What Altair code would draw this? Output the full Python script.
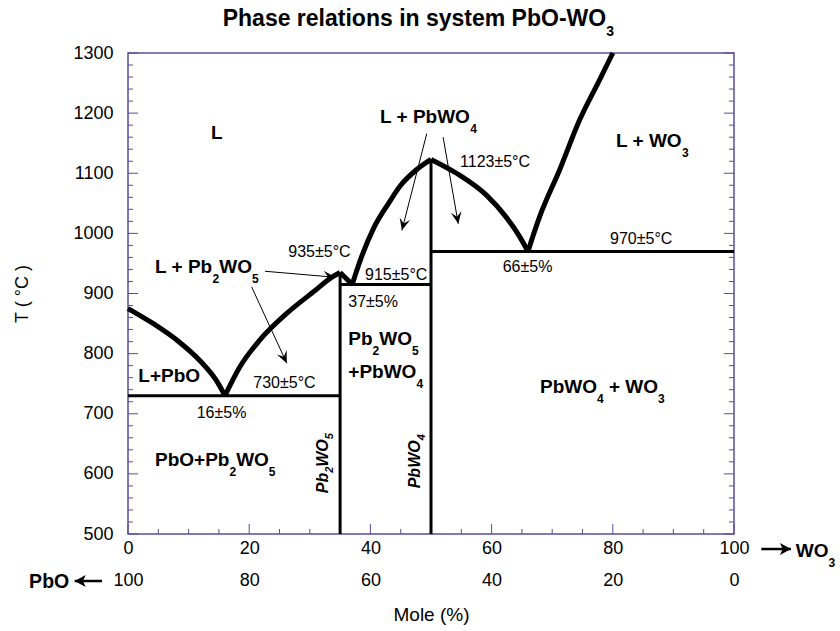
import math
import altair as alt
import pandas as pd

# ------------------------------------------------------------------ layout
W, H = 606, 481
XDOM = [0, 100]
TDOM = [500, 1300]
FONT = "Liberation Sans"
FRAME = "#5b4b9c"

# ------------------------------------------------------------------ data
# liquidus segments (x = mol % WO3, t = temperature °C)
liq_A_x = [0, 4, 8.5, 11.8, 14.6, 16]
liq_A_t = [875, 851, 819, 789, 755, 730]
liq_B_x = [16, 18.4, 21.7, 26.1, 30.5, 33.8, 35]
liq_B_t = [730, 777, 822, 866, 902, 928, 935]
liq_C_x = [35, 36, 37]
liq_C_t = [935, 925, 915]
liq_D_x = [37, 38.5, 40.5, 43, 45, 47.5, 50]
liq_D_t = [915, 960, 1008, 1050, 1080, 1105, 1123]
liq_E_x = [50, 54.2, 59.1, 62.4, 64.6, 66]
liq_E_t = [1123, 1100, 1064, 1027, 995, 970]
liq_F_x = [66, 67.9, 71.2, 74.5, 77.8, 80]
liq_F_t = [970, 1027, 1105, 1188, 1255, 1300]

# straight phase boundaries (solidus lines and compound lines)
iso_x1 = [0, 35, 35, 50, 50]
iso_x2 = [35, 35, 50, 50, 100]
iso_t1 = [730, 500, 915, 500, 970]
iso_t2 = [730, 935, 915, 1123, 970]

# annotation arrows inside the plot (from -> to)
arr_x1 = [22.6, 20.4, 49.3, 52.0]
arr_t1 = [937, 911, 1166, 1160]
arr_x2 = [34.2, 26.2, 45.2, 54.5]
arr_t2 = [927, 784, 1005, 1016]

# composition-direction arrows beside the axis labels (from -> to)
dir_x1 = [-4.3, 104.5]
dir_t1 = [421.8, 475]
dir_x2 = [-8.8, 109.4]
dir_t2 = [421.8, 475]

# axis ticks
x_major = [0, 20, 40, 60, 80, 100]
x_minor = [v for v in range(0, 101, 5) if v % 20]
y_major = list(range(500, 1301, 100))
y_minor = [v for v in range(500, 1301, 20) if v % 100]

# text labels: list of (text, is_subscript) parts, anchor x, anchor t
bold_labels = [
    ([("L", 0)], 13.70, 1157),
    ([("L + Pb", 0), ("2", 1), ("WO", 0), ("5", 1)], 4.46, 933.6),
    ([("L+PbO", 0)], 1.70, 753.3),
    ([("Pb", 0), ("2", 1), ("WO", 0), ("5", 1)], 36.35, 814.3),
    ([("+PbWO", 0), ("4", 1)], 36.35, 759),
    ([("L + PbWO", 0), ("4", 1)], 41.58, 1183),
    ([("L + WO", 0), ("3", 1)], 80.53, 1143.2),
    ([("PbO+Pb", 0), ("2", 1), ("WO", 0), ("5", 1)], 4.46, 613.1),
    ([("PbWO", 0), ("4", 1), (" + WO", 0), ("3", 1)], 67.99, 734.5),
    ([("WO", 0), ("3", 1)], 110.2, 461.7),
]
rot_labels = [
    ([("Pb", 0), ("2", 1), ("WO", 0), ("5", 1)], 33.05, 567.7),
    ([("PbWO", 0), ("4", 1)], 48.18, 576),
]
reg_labels = [
    ("935\u00b15\u00b0C", 26.45, 960.2),
    ("915\u00b15\u00b0C", 39.11, 922.4),
    ("37\u00b15%", 36.35, 878),
    ("730\u00b15\u00b0C", 20.68, 742.3),
    ("16\u00b15%", 11.34, 692.4),
    ("1123\u00b15\u00b0C", 54.79, 1110.9),
    ("970\u00b15\u00b0C", 79.54, 982.3),
    ("66\u00b15%", 61.83, 935.3),
]
right_labels = [("PbO", -9.7, 410.2)]
title_parts = ([("Phase relations in system PbO-WO", 0), ("3", 1)], 15.63, 1344.9)

# ------------------------------------------------------------------ helpers
REG_W = {" ": 278, "+": 584, "-": 333, "(": 333, ")": 333, "%": 889, "\u00b1": 549,
         "\u00b0": 400, "C": 722, "L": 556, "P": 667, "b": 556, "O": 778, "W": 944}
BOLD_W = {" ": 278, "+": 584, "-": 333, "L": 611, "P": 667, "b": 611, "O": 778,
          "W": 944, "h": 611, "a": 556, "s": 556, "e": 556, "r": 389, "l": 278,
          "t": 333, "i": 278, "o": 611, "n": 611, "y": 556, "m": 889}


def width_of(s, size, bold=True):
    tbl = BOLD_W if bold else REG_W
    return sum(tbl.get(ch, 556) for ch in s) * size / 1000.0


def compose(parts, x0, t0, size, sub_size, drop, bold=True, angle=0):
    rows = []
    cur = 0.0
    for txt, sub in parts:
        sz = sub_size if sub else size
        lead = len(txt) - len(txt.lstrip(" "))
        cur += width_of(" " * lead, sz, bold)
        body = txt.strip(" ")
        d = drop if sub else 0.0
        if angle == 0:
            x = x0 + cur * 100.0 / W
            t = t0 - d * 800.0 / H
        else:
            x = x0 + d * 100.0 / W
            t = t0 + cur * 800.0 / H
        rows.append({"x": x, "t": t, "text": body, "size": sz, "angle": angle})
        cur += width_of(body, sz, bold)
        trail = len(txt) - len(txt.rstrip(" "))
        cur += width_of(" " * trail, sz, bold)
    return rows


def head_angles(x1, t1, x2, t2):
    out = []
    for a, b, c, d in zip(x1, t1, x2, t2):
        dxp = (c - a) * W / 100.0
        dyp = -(d - b) * H / 800.0
        out.append(math.degrees(math.atan2(-dxp, dyp)) % 360)
    return out


# ------------------------------------------------------------------ frames
curve_rows = []
for name, xs_, ts_ in [("A", liq_A_x, liq_A_t), ("B", liq_B_x, liq_B_t),
                       ("C", liq_C_x, liq_C_t), ("D", liq_D_x, liq_D_t),
                       ("E", liq_E_x, liq_E_t), ("F", liq_F_x, liq_F_t)]:
    for i, (a, b) in enumerate(zip(xs_, ts_)):
        curve_rows.append({"seg": name, "x": a, "t": b, "i": i})
curves = pd.DataFrame(curve_rows)

iso = pd.DataFrame({"x": iso_x1, "x2": iso_x2, "t": iso_t1, "t2": iso_t2})

arrows = pd.DataFrame({"x": arr_x1, "t": arr_t1, "x2": arr_x2, "t2": arr_t2,
                       "angle": head_angles(arr_x1, arr_t1, arr_x2, arr_t2)})
dirs = pd.DataFrame({"x": dir_x1, "t": dir_t1, "x2": dir_x2, "t2": dir_t2,
                     "angle": head_angles(dir_x1, dir_t1, dir_x2, dir_t2)})

bold_rows = []
for parts, x0, t0 in bold_labels:
    bold_rows += compose(parts, x0, t0, 19, 12, 10)
bold_rows += compose(title_parts[0], title_parts[1], title_parts[2], 23, 14, 10)
bold_df = pd.DataFrame(bold_rows)

rot_rows = []
for parts, x0, t0 in rot_labels:
    rot_rows += compose(parts, x0, t0, 16, 11, 5, angle=270)
rot_df = pd.DataFrame(rot_rows)

reg_df = pd.DataFrame([{"x": x, "t": t, "text": s, "size": 16, "angle": 0}
                       for s, x, t in reg_labels])
right_df = pd.DataFrame([{"x": x, "t": t, "text": s, "size": 19.5, "angle": 0}
                         for s, x, t in right_labels])

# ------------------------------------------------------------------ encodings
xs = alt.Scale(domain=XDOM, nice=False, zero=False)
ys = alt.Scale(domain=TDOM, nice=False, zero=False)
xaxis = alt.Axis(values=x_major, format="d",
                 labelExpr="[datum.label, '' + (100 - datum.value)]",
                 ticks=False, domain=False, grid=False, labelFontSize=18,
                 labelPadding=5, labelLineHeight=32, labelFont=FONT,
                 labelColor="black", labelFlush=False, labelOverlap=False,
                 title="Mole (%)", titleFontSize=19, titleFontWeight="normal",
                 titleFont=FONT, titleColor="black", titlePadding=16)
yaxis = alt.Axis(values=y_major, format="d", ticks=False, domain=False, grid=False,
                 labelFontSize=18, labelPadding=15, labelFont=FONT,
                 labelColor="black", labelFlush=False, labelOverlap=False,
                 title="T ( \u00b0C )", titleFontSize=18, titleFontWeight="normal",
                 titleFont=FONT, titleColor="black", titlePadding=41)


def X(f):
    return alt.X(f, type="quantitative", scale=xs, axis=xaxis)


def Y(f):
    return alt.Y(f, type="quantitative", scale=ys, axis=yaxis)


layers = []

# inward ticks
tk = lambda vals: pd.DataFrame({"v": vals})
layers.append(alt.Chart(tk(x_major)).mark_rule(color=FRAME, strokeWidth=1).encode(
    x=X("v"), y=alt.value(H), y2=alt.value(H - 10)))
layers.append(alt.Chart(tk(x_minor)).mark_rule(color=FRAME, strokeWidth=1).encode(
    x=X("v"), y=alt.value(H), y2=alt.value(H - 5)))
for x0, sgn in [(0, 1), (W, -1)]:
    layers.append(alt.Chart(tk(y_major)).mark_rule(color=FRAME, strokeWidth=1).encode(
        y=Y("v"), x=alt.value(x0), x2=alt.value(x0 + sgn * 10)))
    layers.append(alt.Chart(tk(y_minor)).mark_rule(color=FRAME, strokeWidth=1).encode(
        y=Y("v"), x=alt.value(x0), x2=alt.value(x0 + sgn * 5)))

# straight boundaries
layers.append(alt.Chart(iso).mark_rule(color="black", strokeWidth=3).encode(
    x=X("x"), x2="x2", y=Y("t"), y2="t2"))

# liquidus curves
layers.append(alt.Chart(curves).mark_line(color="black", strokeWidth=5,
                                          interpolate="monotone",
                                          strokeJoin="round").encode(
    x=X("x"), y=Y("t"), detail="seg:N", order="i:Q"))

# arrows
HEAD = "M0,0 L-0.45,-1 L0,-0.6 L0.45,-1 Z"
layers.append(alt.Chart(arrows).mark_rule(color="black", strokeWidth=1).encode(
    x=X("x"), x2="x2", y=Y("t"), y2="t2"))
layers.append(alt.Chart(arrows).mark_point(
    shape=HEAD, filled=True, color="black", size=576, opacity=1,
    strokeWidth=0).encode(
    x=X("x2"), y=Y("t2"), angle=alt.Angle("angle:Q", scale=None)))
layers.append(alt.Chart(dirs).mark_rule(color="black", strokeWidth=2.5).encode(
    x=X("x"), x2="x2", y=Y("t"), y2="t2"))
layers.append(alt.Chart(dirs).mark_point(
    shape="M0,0 L-0.55,-1 L0,-0.75 L0.55,-1 Z", filled=True, color="black",
    size=484, opacity=1, strokeWidth=0).encode(
    x=X("x2"), y=Y("t2"), angle=alt.Angle("angle:Q", scale=None)))


def text_layer(df, weight, style="normal", align="left"):
    return alt.Chart(df).mark_text(align=align, baseline="alphabetic", font=FONT,
                                   fontWeight=weight, fontStyle=style,
                                   color="black").encode(
        x=X("x"), y=Y("t"), text="text:N",
        size=alt.Size("size:Q", scale=None),
        angle=alt.Angle("angle:Q", scale=None))


layers.append(text_layer(reg_df, "normal"))
layers.append(text_layer(bold_df, "bold"))
layers.append(text_layer(rot_df, "bold", "italic"))
layers.append(text_layer(right_df, "bold", align="right"))

chart = alt.layer(*layers).properties(
    width=W, height=H,
    autosize=alt.AutoSizeParams(type="none"),
    padding={"left": 128, "top": 53, "right": 106, "bottom": 97},
    background="white",
).configure_view(stroke=FRAME, strokeWidth=1.5)

chart.save("out.html", embed_options={"renderer": "svg", "actions": False})
